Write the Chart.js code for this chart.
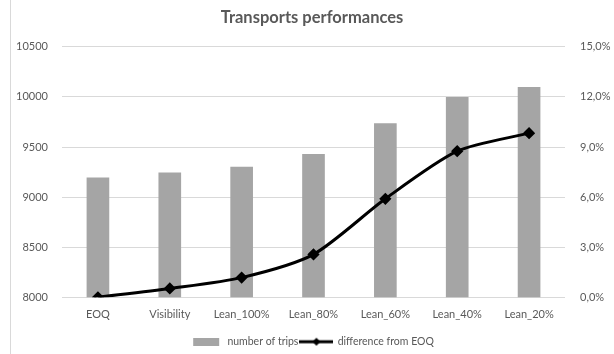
<!DOCTYPE html>
<html>
<head>
<meta charset="utf-8">
<script src="https://cdn.jsdelivr.net/npm/chart.js@4/dist/chart.umd.min.js"></script>
<style>
  html, body { margin: 0; padding: 0; background: #fff; }
  #wrap { position: relative; width: 614px; height: 354px; }
  #frame { position: absolute; left: 10px; top: -1px; width: 610px; height: 360px; border: 1px solid #d9d9d9; }
</style>
</head>
<body>
<div id="wrap">
  <div id="frame"></div>
  <canvas id="chart" width="614" height="354"></canvas>
</div>
<script>
'use strict';

/* ─── Data ─────────────────────────────────────────────── */
const categories = ['EOQ', 'Visibility', 'Lean_100%', 'Lean_80%', 'Lean_60%', 'Lean_40%', 'Lean_20%'];
const trips      = [9192, 9242, 9300, 9428, 9733, 9995, 10095];
const diffEOQ    = [0.000, 0.0053, 0.0118, 0.0257, 0.0590, 0.0875, 0.0983];
const leftTicks  = [8000, 8500, 9000, 9500, 10000, 10500];
const rightTicks = [0, 0.03, 0.06, 0.09, 0.12, 0.15];

const TXT  = '#595959';
const GRID = '#d9d9d9';
const FONT = 'Lato, "Open Sans", sans-serif';

/* legend glyphs */
function legendBar() {
  const c = document.createElement('canvas');
  c.width = 30; c.height = 8;
  const g = c.getContext('2d');
  g.fillStyle = '#a5a5a5';
  g.fillRect(2, 0, 26, 8);
  return c;
}
function legendLine() {
  const c = document.createElement('canvas');
  c.width = 34; c.height = 10;
  const g = c.getContext('2d');
  g.strokeStyle = '#000'; g.lineWidth = 3;
  g.beginPath(); g.moveTo(0, 5); g.lineTo(34, 5); g.stroke();
  g.fillStyle = '#000';
  g.beginPath(); g.moveTo(17, 1); g.lineTo(21, 5); g.lineTo(17, 9); g.lineTo(13, 5); g.closePath(); g.fill();
  return c;
}

new Chart(document.getElementById('chart'), {
  data: {
    labels: categories,
    datasets: [
      {
        type: 'line',
        label: 'difference from EOQ',
        data: diffEOQ,
        yAxisID: 'y1',
        borderColor: '#000',
        backgroundColor: '#000',
        borderWidth: 3,
        pointStyle: 'rectRot',
        pointRadius: 4,
        pointHoverRadius: 4,
        tension: 0.25,
        order: 0
      },
      {
        type: 'bar',
        label: 'number of trips',
        data: trips,
        yAxisID: 'y',
        backgroundColor: '#a5a5a5',
        barThickness: 22,
        order: 1
      }
    ]
  },
  options: {
    responsive: false,
    animation: false,
    layout: { padding: { left: 10, right: 0, top: 0, bottom: -3 } },
    plugins: {
      title: {
        display: true,
        text: 'Transports performances',
        color: TXT,
        font: { family: FONT, size: 16.5, weight: 'bold' },
        padding: { top: 8, bottom: 19 }
      },
      legend: {
        position: 'bottom',
        reverse: true,
        labels: {
          color: TXT,
          font: { family: FONT, size: 10.5 },
          usePointStyle: true,
          pointStyleWidth: 32,
          boxHeight: 10,
          padding: 2,
          generateLabels: chart => chart.data.datasets.map((ds, i) => ({
            text: ds.label,
            pointStyle: ds.type === 'bar' ? legendBar() : legendLine(),
            fontColor: TXT,
            lineWidth: 0,
            datasetIndex: i
          }))
        }
      },
      tooltip: { enabled: false }
    },
    scales: {
      x: {
        grid: { display: false },
        border: { display: false },
        afterFit: s => { s.height += 10; },
        ticks: { color: TXT, font: { family: FONT, size: 11 }, padding: 3 }
      },
      y: {
        position: 'left',
        min: 8000, max: 10500,
        afterBuildTicks: s => { s.ticks = leftTicks.map(v => ({ value: v })); },
        afterFit: s => { s.width = 52; },
        grid: { color: GRID, drawTicks: false },
        border: { display: false },
        ticks: {
          color: TXT, font: { family: FONT, size: 11 }, padding: 14,
          callback: v => String(v)
        }
      },
      y1: {
        position: 'right',
        min: 0, max: 0.15,
        afterBuildTicks: s => { s.ticks = rightTicks.map(v => ({ value: v })); },
        afterFit: s => { s.width = 49; },
        grid: { display: false },
        border: { display: false },
        ticks: {
          color: TXT, font: { family: FONT, size: 11 }, padding: 7,
          callback: v => (v * 100).toFixed(1).replace('.', ',') + '%'
        }
      }
    }
  }
});
</script>
</body>
</html>
